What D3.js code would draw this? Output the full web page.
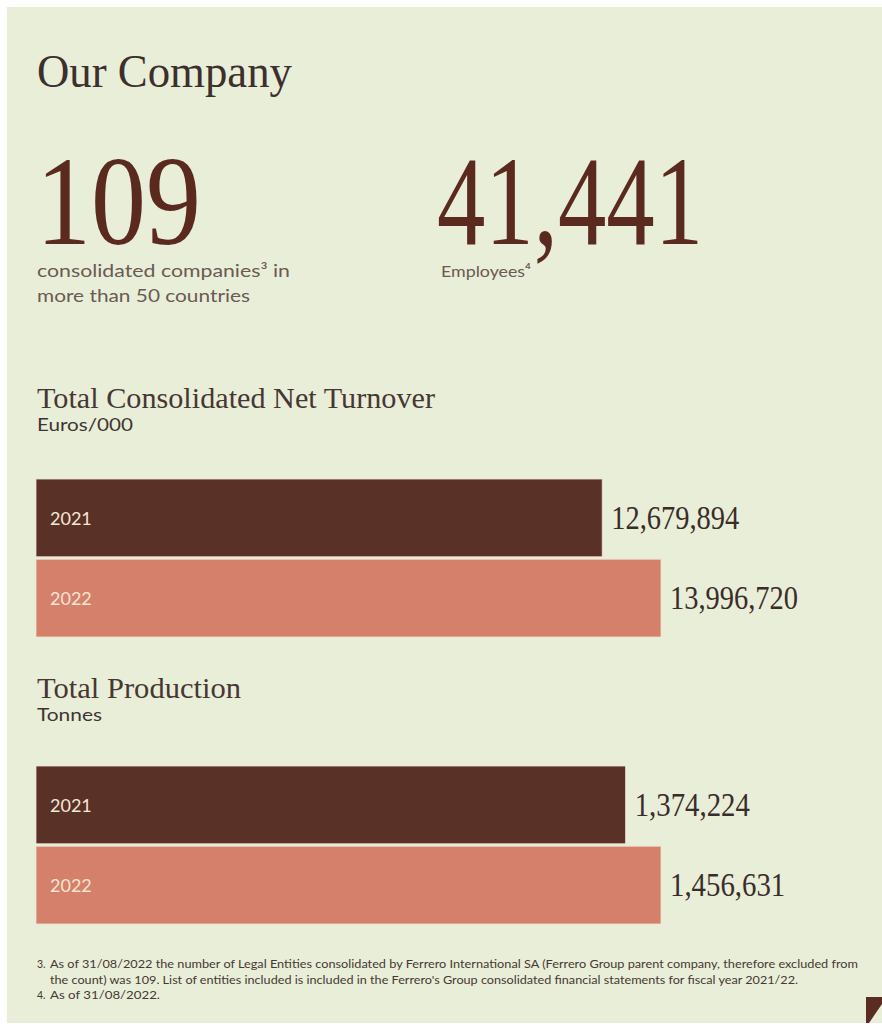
<!DOCTYPE html>
<html>
<head>
<meta charset="utf-8">
<script src="https://cdn.jsdelivr.net/npm/d3@7"></script>
<style>
  html, body { margin: 0; padding: 0; background: #ffffff; }
  svg { display: block; }
</style>
</head>
<body>
<svg id="chart" width="882" height="1034"></svg>
<script>
// Key figures
const years = ["2021", "2022"];
const turnover = [12679894, 13996720];     // Euros/000
const production = [1374224, 1456631];     // Tonnes
const companies = 109;
const employees = 41441;

const footnotes = [
  { mark: "3.", lines: [
    "As of 31/08/2022 the number of Legal Entities consolidated by Ferrero International SA (Ferrero Group parent company, therefore excluded from",
    "the count) was 109. List of entities included is included in the Ferrero's Group consolidated financial statements for fiscal year 2021/22."
  ]},
  { mark: "4.", lines: ["As of 31/08/2022."] }
];

const SERIF = "'Liberation Serif', 'DejaVu Serif', serif";
const SANS = "Lato, 'Open Sans', sans-serif";
const barColor = { "2021": "#5a3126", "2022": "#d5806a" };
const yearText = { "2021": "#f3e7d6", "2022": "#fbe5d6" };

const svg = d3.select("#chart");
const fmt = d3.format(",");

// Background panel
svg.append("rect")
  .attr("x", 7).attr("y", 7).attr("width", 875).attr("height", 1016)
  .attr("fill", "#e9eed9");

// Page corner
svg.append("polygon")
  .attr("points", "866,997 882,997 882,1004 869,1023 866,1023")
  .attr("fill", "#5a2c22");

function label(x, y, text, opts) {
  const t = svg.append("text")
    .attr("x", x).attr("y", y)
    .attr("font-family", opts.family)
    .attr("font-size", opts.size)
    .attr("fill", opts.color)
    .text(text);
  if (opts.width) t.attr("textLength", opts.width).attr("lengthAdjust", "spacingAndGlyphs");
  if (opts.weight) t.attr("font-weight", opts.weight);
  return t;
}

// Header
label(37, 87, "Our Company", { family: SERIF, size: 47, color: "#3d302c", width: 255 });

// Headline figures
label(36, 244, String(companies), { family: SERIF, size: 128, color: "#5b2a1f", width: 165 });
label(37, 277, "consolidated companies\u00B3 in", { family: SANS, size: 18, color: "#6a5a52", width: 253 });
label(37, 302, "more than 50 countries", { family: SANS, size: 18, color: "#6a5a52", width: 213 });

label(437, 244, fmt(employees), { family: SERIF, size: 128, color: "#5b2a1f", width: 266 });
label(441, 277, "Employees\u2074", { family: SANS, size: 16, color: "#6a5a52", width: 90 });

// Horizontal bar block: one bar per year, value printed at the bar end
function barBlock(values, title, unit, titleY, top, bottom, titleWidth, unitWidth) {
  label(37, titleY, title, { family: SERIF, size: 29, color: "#473733", width: titleWidth });
  label(37, titleY + 23, unit, { family: SANS, size: 17, color: "#3f3431", width: unitWidth });

  const x = d3.scaleLinear().domain([0, d3.max(values)]).range([36, 661]);
  const y = d3.scaleBand().domain(years).range([top, bottom]).paddingInner(0.03);
  const data = years.map((yr, i) => ({ year: yr, value: values[i] }));

  const g = svg.append("g");
  g.selectAll("rect").data(data).join("rect")
    .attr("x", x(0))
    .attr("y", d => y(d.year))
    .attr("width", d => x(d.value) - x(0))
    .attr("height", y.bandwidth())
    .attr("fill", d => barColor[d.year])
    .attr("stroke", "#efe2cf")
    .attr("stroke-width", 0.8);

  g.selectAll("text.year").data(data).join("text")
    .attr("class", "year")
    .attr("x", x(0) + 14)
    .attr("y", d => y(d.year) + y.bandwidth() / 2 + 7)
    .attr("font-family", SANS)
    .attr("font-size", 18)
    .attr("fill", d => yearText[d.year])
    .text(d => d.year);

  g.selectAll("text.value").data(data).join("text")
    .attr("class", "value")
    .attr("x", d => x(d.value) + 9)
    .attr("y", d => y(d.year) + y.bandwidth() / 2 + 11)
    .attr("font-family", SERIF)
    .attr("font-size", 33)
    .attr("fill", "#3a2d29")
    .attr("textLength", d => fmt(d.value).length * 12.8)
    .attr("lengthAdjust", "spacingAndGlyphs")
    .text(d => fmt(d.value));
}

barBlock(turnover, "Total Consolidated Net Turnover", "Euros/000", 408, 479, 637, 398, 96);
barBlock(production, "Total Production", "Tonnes", 698, 766, 924, 204, 65);

// Footnotes
const lineWidths = [808, 748, 110];
let fy = 968, li = 0;
footnotes.forEach(f => {
  label(37, fy, f.mark, { family: SANS, size: 10.5, color: "#463832" });
  f.lines.forEach(line => {
    label(50, fy, line, { family: SANS, size: 10.5, color: "#463832", width: lineWidths[li++] });
    fy += 15.5;
  });
});
</script>
</body>
</html>
